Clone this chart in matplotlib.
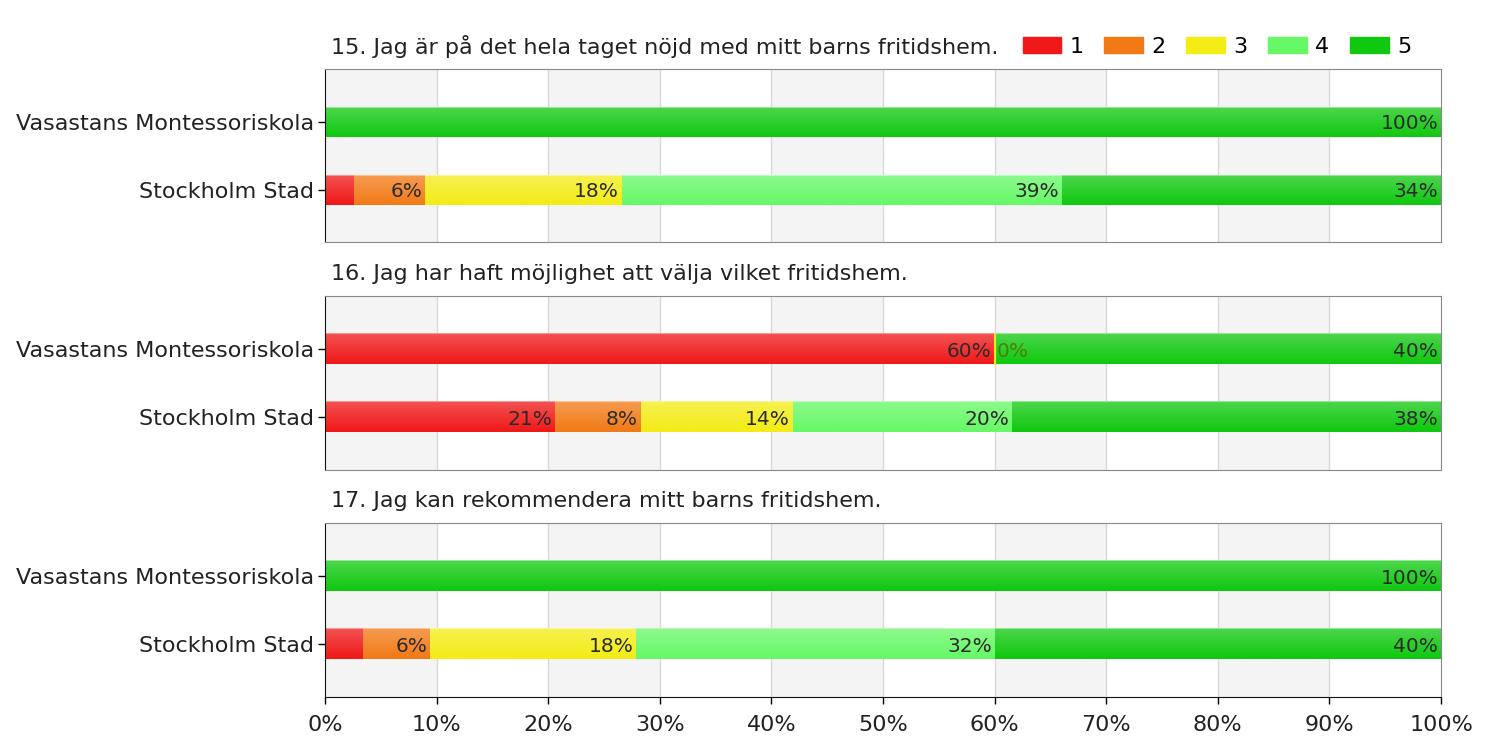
import matplotlib
matplotlib.use("Agg")
import matplotlib.pyplot as plt
from matplotlib.patches import Patch
from matplotlib.colors import to_rgb
import numpy as np

# survey data (percent of answers 1..5)
titles = [
    "15. Jag är på det hela taget nöjd med mitt barns fritidshem.",
    "16. Jag har haft möjlighet att välja vilket fritidshem.",
    "17. Jag kan rekommendera mitt barns fritidshem.",
]
groups = ["Vasastans Montessoriskola", "Stockholm Stad"]
q15_vasa = [0, 0, 0, 0, 100]
q15_sthlm = [2.6, 6.4, 17.6, 39.4, 34.0]
q16_vasa = [60, 0, 0, 0, 40]
q16_sthlm = [20.6, 7.7, 13.6, 19.7, 38.4]
q17_vasa = [0, 0, 0, 0, 100]
q17_sthlm = [3.4, 6.0, 18.5, 32.1, 40.0]
panels = [[q15_vasa, q15_sthlm], [q16_vasa, q16_sthlm], [q17_vasa, q17_sthlm]]

# which segments get a percent label
labels15 = [[None, None, None, None, "100%"], [None, "6%", "18%", "39%", "34%"]]
labels16 = [["60%", "0%", None, None, "40%"], ["21%", "8%", "14%", "20%", "38%"]]
labels17 = [[None, None, None, None, "100%"], [None, "6%", "18%", "32%", "40%"]]
all_labels = [labels15, labels16, labels17]

answers = ["1", "2", "3", "4", "5"]
colors = ["#f01818", "#f27a16", "#f3ec16", "#66f866", "#10c810"]

plt.rcParams["font.family"] = "DejaVu Sans"
fig = plt.figure(figsize=(15, 7.5), dpi=100)

left, width = 325 / 1500, 1116 / 1500
tops = [69, 296, 523]
bots = [242, 470, 697]
bar_h = 0.44


def gradient(c):
    # vertical gloss: lighter top, base colour bottom
    rgb = np.array(to_rgb(c))
    t = np.linspace(0, 1, 30)[:, None]
    light = rgb + (1 - rgb) * 0.25
    img = light * (1 - t) + rgb * t
    img[0] = rgb + (1 - rgb) * 0.55
    return img[:, None, :]


for i in range(3):
    ax = fig.add_axes([left, 1 - bots[i] / 750, width, (bots[i] - tops[i]) / 750])
    # alternating column shading
    for k in range(0, 100, 20):
        ax.axvspan(k, k + 10, color="#f4f4f4", zorder=0, lw=0)
    for k in range(10, 100, 10):
        ax.axvline(k, color="#d8d8d8", lw=1, zorder=0.5)

    for j, vals in enumerate(panels[i]):
        start = 0
        for s in range(5):
            v = vals[s]
            if v > 0:
                ax.imshow(gradient(colors[s]), aspect="auto", interpolation="bilinear",
                          extent=[start, start + v, j + bar_h / 2, j - bar_h / 2], zorder=2)
            lab = all_labels[i][j][s]
            if lab is not None:
                if v == 0:
                    ax.plot([start, start], [j - bar_h / 2, j + bar_h / 2],
                            color="#f3ec16", lw=1.5, zorder=4)
                    ax.text(start + 0.2, j + 0.03, lab, ha="left", va="center",
                            fontsize=14.5, color="#5a6a00", alpha=0.8, zorder=5)
                else:
                    ax.text(start + v - 0.25, j + 0.03, lab, ha="right", va="center",
                            fontsize=14.5, color="#2a2a2a", zorder=5)
            start += v

    ax.set_xlim(0, 100)
    ax.set_ylim(1.77, -0.78)
    ax.set_yticks([0, 1])
    ax.set_yticklabels(groups, fontsize=16, color="#222222")
    ax.tick_params(axis="y", length=5, width=1, pad=3)
    ax.set_xticks(np.arange(0, 101, 10))
    if i == 2:
        ax.set_xticklabels([f"{t}%" for t in range(0, 101, 10)], fontsize=16, color="#222222")
        ax.tick_params(axis="x", length=5, width=1, pad=8)
    else:
        ax.tick_params(axis="x", length=0, labelbottom=False)
    for side in ["top", "right"]:
        ax.spines[side].set_color("#888888")
    ax.spines["left"].set_color("#111111")
    ax.spines["bottom"].set_color("#111111" if i == 2 else "#888888")
    ax.text(6 / 1116, 1 + 22 / 173, titles[i], transform=ax.transAxes,
            fontsize=16, color="#222222", ha="left", va="center")

handles = [Patch(facecolor=c, edgecolor=c) for c in colors]
fig.legend(handles, answers, loc="center right", bbox_to_anchor=(1420 / 1500, 1 - 47 / 750),
           ncol=5, frameon=False, fontsize=16, handlelength=1.75, handleheight=0.75,
           handletextpad=0.35, columnspacing=0.95, borderaxespad=0)

fig.savefig("out.png", dpi=100)
